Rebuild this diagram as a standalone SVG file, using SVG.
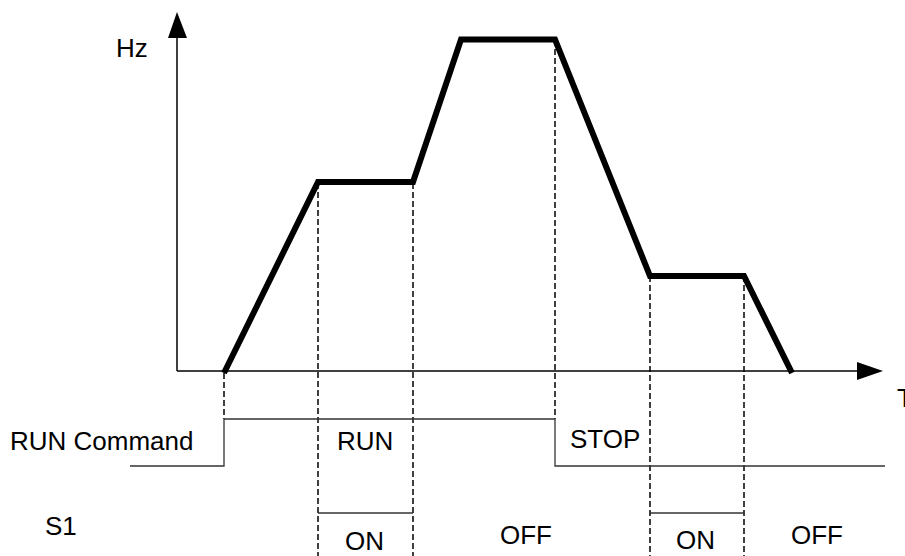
<svg xmlns="http://www.w3.org/2000/svg" width="905" height="556" viewBox="0 0 905 556">
<style>
.t{font-family:"Liberation Sans",Arial,sans-serif;font-size:26px;fill:#000}
.ax{stroke:#000;stroke-width:1.5;fill:none}
.dash{stroke:#000;stroke-width:1.5;stroke-dasharray:6,3;fill:none}
.sig{stroke:#333;stroke-width:1.3;fill:none}
.curve{stroke:#000;stroke-width:6;fill:none;stroke-linejoin:miter;stroke-linecap:butt}
</style>
<rect width="905" height="556" fill="#fff"/>
<g id="axes">
<line class="ax" x1="177" y1="371" x2="177" y2="36"/>
<polygon points="177,12 168,38 187,38" fill="#000"/>
<line class="ax" x1="177" y1="371" x2="859" y2="371"/>
<polygon points="883,371 857,362 857,380" fill="#000"/>
</g>
<g id="guides">
<line class="dash" x1="224" y1="373" x2="224" y2="419"/>
<line class="dash" x1="318" y1="183" x2="318" y2="556"/>
<line class="dash" x1="413" y1="183" x2="413" y2="556"/>
<line class="dash" x1="555" y1="40" x2="555" y2="419"/>
<line class="dash" x1="650" y1="276" x2="650" y2="556"/>
<line class="dash" x1="744" y1="276" x2="744" y2="556"/>
</g>
<g id="frequency-curve">
<polyline class="curve" points="224,373 318,182 413,182 461,39.5 555,39.5 650,276 744,276 792,373"/>
</g>
<g id="run-command">
<path class="sig" d="M130,466 H224 V419 H555 V466 H885"/>
</g>
<g id="s1">
<line class="sig" x1="318" y1="513" x2="413" y2="513"/>
<line class="sig" x1="650" y1="513" x2="744" y2="513"/>
</g>
<g id="labels">
<text class="t" x="116" y="57">Hz</text>
<text class="t" x="897" y="407">T</text>
<text class="t" x="10" y="450">RUN Command</text>
<text class="t" x="337" y="450">RUN</text>
<text class="t" x="570" y="448">STOP</text>
<text class="t" x="45" y="535">S1</text>
<text class="t" x="345" y="550">ON</text>
<text class="t" x="500" y="544">OFF</text>
<text class="t" x="676" y="549">ON</text>
<text class="t" x="791" y="544">OFF</text>
</g>
</svg>
